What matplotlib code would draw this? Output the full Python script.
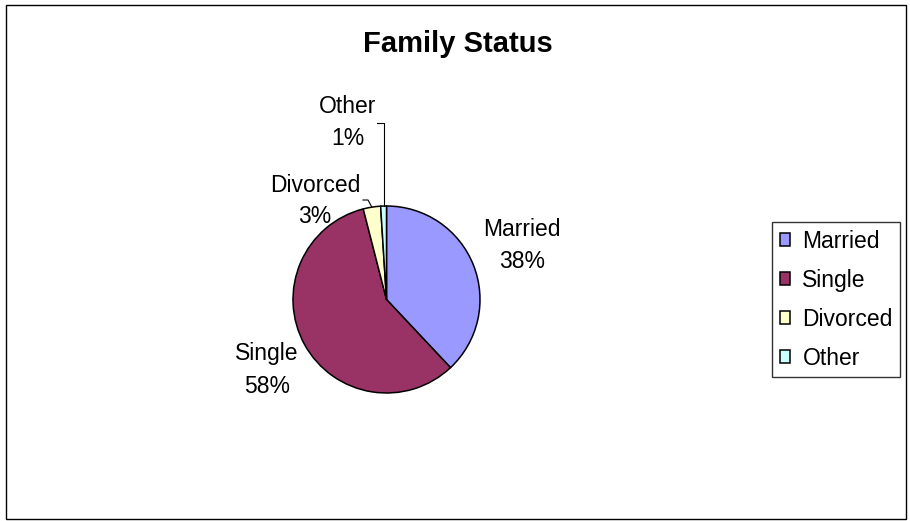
import numpy as np
import matplotlib.pyplot as plt
from matplotlib.patches import Rectangle

plt.rcParams['font.family'] = ['Liberation Sans', 'DejaVu Sans']

# === DATA ===
categories = ['Married', 'Single', 'Divorced', 'Other']
percent = [38, 58, 3, 1]
colors = ['#9999FF', '#993366', '#FFFFCC', '#CCFFFF']
title = 'Family Status'

# === LAYOUT (pixel units, y measured from top) ===
W, H = 910, 521
label_pos = {  # centre x, baseline of line 1, baseline of line 2
    'Married': (522, 236, 268),
    'Single': (267, 360, 393),
    'Divorced': (315, 192, 223),
    'Other': (348, 113, 145),
}

fig = plt.figure(figsize=(W / 100, H / 100), dpi=100)
ax = fig.add_axes([0, 0, 1, 1])

cx, cy, r = 386.5, H - 299.5, 93.5
wedges, _ = ax.pie(percent, colors=colors, startangle=90, counterclock=False,
                   center=(cx, cy), radius=r,
                   wedgeprops=dict(edgecolor='black', linewidth=1.1))
ax.set_xlim(0, W)
ax.set_ylim(0, H)
ax.set_aspect('equal')
ax.axis('off')

# slice labels
for name, val in zip(categories, percent):
    x, b1, b2 = label_pos[name]
    ax.text(x, H - b1, name, ha='center', va='baseline', fontsize=16.5)
    ax.text(x, H - b2, f'{val}%', ha='center', va='baseline', fontsize=16.5)


def edge_point(w):
    mid = np.deg2rad((w.theta1 + w.theta2) / 2)
    return cx + r * np.cos(mid), cy + r * np.sin(mid)


# leader lines for the small slices
ex, ey = edge_point(wedges[2])
ax.plot([ex, 368, 363], [ey, H - 200, H - 200], color='black', lw=0.8)
ex, ey = edge_point(wedges[3])
ax.plot([ex, ex, 377], [ey, H - 123, H - 123], color='black', lw=0.8)

ax.text(458, H - 52, title, ha='center', va='baseline', fontsize=21, fontweight='bold')

leg = ax.legend(wedges, categories, loc='upper left',
                bbox_to_anchor=(772 / W, 1 - 222 / H), bbox_transform=fig.transFigure,
                fontsize=16.5, frameon=True, fancybox=False, edgecolor='black',
                borderpad=0.33, labelspacing=0.7, handlelength=0.45, handleheight=0.45,
                handletextpad=0.55, borderaxespad=0)
leg.get_frame().set_linewidth(1.0)

# outer chart border
ax.add_patch(Rectangle((6, H - 519), 900, 514, fill=False, edgecolor='black',
                       lw=1.0, clip_on=False))

fig.savefig('out.png', dpi=100)
